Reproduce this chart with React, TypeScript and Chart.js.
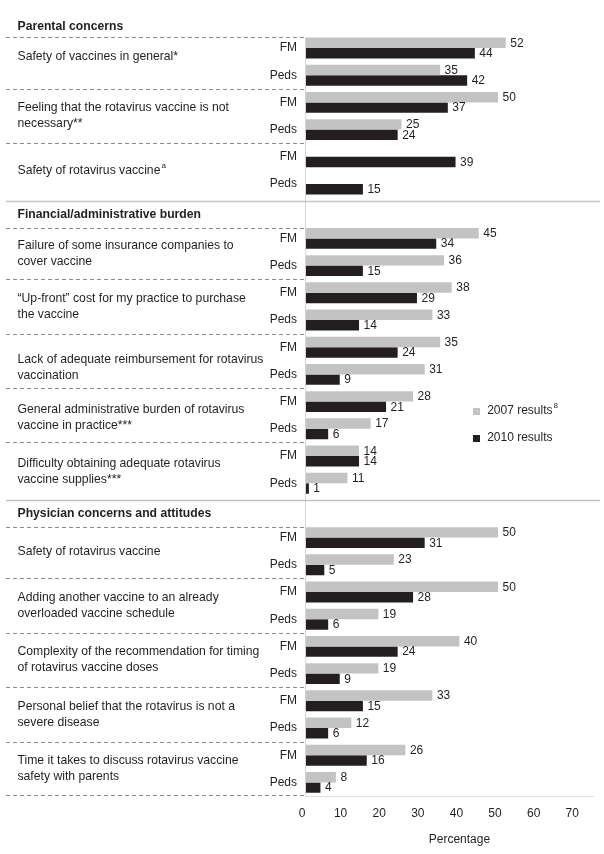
import React, { useEffect, useRef } from 'react';
import { Chart, registerables } from 'chart.js';

Chart.register(...registerables);

// ---------- data ----------
const sectionTitles = [
  'Parental concerns',
  'Financial/administrative burden',
  'Physician concerns and attitudes',
];

const itemLabels: string[][][] = [
  [
    ['Safety of vaccines in general*'],
    ['Feeling that the rotavirus vaccine is not', 'necessary**'],
    ['Safety of rotavirus vaccine'],
  ],
  [
    ['Failure of some insurance companies to', 'cover vaccine'],
    ['\u201CUp-front\u201D cost for my practice to purchase', 'the vaccine'],
    ['Lack of adequate reimbursement for rotavirus', 'vaccination'],
    ['General administrative burden of rotavirus', 'vaccine in practice***'],
    ['Difficulty obtaining adequate rotavirus', 'vaccine supplies***'],
  ],
  [
    ['Safety of rotavirus vaccine'],
    ['Adding another vaccine to an already', 'overloaded vaccine schedule'],
    ['Complexity of the recommendation for timing', 'of rotavirus vaccine doses'],
    ['Personal belief that the rotavirus is not a', 'severe disease'],
    ['Time it takes to discuss rotavirus vaccine', 'safety with parents'],
  ],
];

// superscripts on item labels, keyed "section-item"
const itemSuperscripts: Record<string, string> = { '0-2': 'a' };

const groupLabels = ['FM', 'Peds'];

// values in order: item by item, FM then Peds
const results2007: (number | null)[] = [
  52, 35, 50, 25, null, null,
  45, 36, 38, 33, 35, 31, 28, 17, 14, 11,
  50, 23, 50, 19, 40, 19, 33, 12, 26, 8,
];
const results2010: (number | null)[] = [
  44, 42, 37, 24, 39, 15,
  34, 15, 29, 14, 24, 9, 21, 6, 14, 1,
  31, 5, 28, 6, 24, 9, 15, 6, 16, 4,
];

const seriesNames = ['2007 results', '2010 results'];
const seriesSuperscripts = ['8', ''];
const xTickValues = [0, 10, 20, 30, 40, 50, 60, 70];
const xAxisTitle = 'Percentage';

// ---------- styling ----------
const FONT = '"Liberation Sans", Arial, Helvetica, sans-serif';
const TEXT = '#231f20';
const GRAY = '#c3c3c3';
const BLACK = '#231f20';
// small vertical nudges (px) of item labels, keyed "section-item"
const labelNudge: Record<string, number> = { '0-0': -5, '1-0': 2, '1-2': 7, '1-3': 2, '1-4': 2 };

type ItemMeta = { section: number; item: number; rows: number[]; lines: string[]; sup: string };

function buildRows() {
  const labels: string[] = [];
  const d2007: (number | null)[] = [];
  const d2010: (number | null)[] = [];
  const headers: number[] = [];
  const items: ItemMeta[] = [];
  let k = 0;
  itemLabels.forEach((sec, s) => {
    headers.push(labels.length);
    labels.push('');
    d2007.push(null);
    d2010.push(null);
    sec.forEach((lines, i) => {
      const rows: number[] = [];
      groupLabels.forEach((g) => {
        rows.push(labels.length);
        labels.push(g);
        d2007.push(results2007[k]);
        d2010.push(results2010[k]);
        k++;
      });
      items.push({ section: s, item: i, rows, lines, sup: itemSuperscripts[`${s}-${i}`] || '' });
    });
  });
  return { labels, d2007, d2010, headers, items };
}

export default function App() {
  const ref = useRef<HTMLCanvasElement | null>(null);

  useEffect(() => {
    if (!ref.current) return;
    const { labels, d2007, d2010, headers, items } = buildRows();

    const overlay = {
      id: 'overlay',
      afterDraw(chart: any) {
        const ctx = chart.ctx as CanvasRenderingContext2D;
        const ys = chart.scales.y;
        const xs = chart.scales.x;
        const area = chart.chartArea;
        const half = (ys.getPixelForValue(1) - ys.getPixelForValue(0)) / 2;
        const LX = 17.5;
        const LFONT = `12.2px ${FONT}`;
        ctx.save();

        // vertical axis line (from first separator to bottom)
        const firstTop = Math.round(ys.getPixelForValue(items[0].rows[0]) - half + 3) + 0.5;
        ctx.strokeStyle = '#d4d4d4';
        ctx.lineWidth = 1;
        ctx.beginPath();
        ctx.moveTo(Math.round(area.left) + 0.5, firstTop);
        ctx.lineTo(Math.round(area.left) + 0.5, area.bottom);
        ctx.stroke();

        // section headers + solid separators
        headers.forEach((h, s) => {
          const cy = ys.getPixelForValue(h);
          ctx.fillStyle = TEXT;
          ctx.font = `bold 12.2px ${FONT}`;
          ctx.textAlign = 'left';
          ctx.textBaseline = 'middle';
          ctx.fillText(sectionTitles[s], LX, cy + (s === 0 ? 6 : 3));
          if (s > 0) {
            const ly = Math.round(cy - half + 3.5) + 0.5;
            ctx.strokeStyle = '#c4c4c4';
            ctx.lineWidth = 1.5;
            ctx.setLineDash([]);
            ctx.beginPath();
            ctx.moveTo(6, ly);
            ctx.lineTo(600, ly);
            ctx.stroke();
          }
        });

        // item labels + dashed separators
        items.forEach((it, idx) => {
          const y1 = ys.getPixelForValue(it.rows[0]);
          const y2 = ys.getPixelForValue(it.rows[it.rows.length - 1]);
          const cy = (y1 + y2) / 2 + (labelNudge[`${it.section}-${it.item}`] || 0);
          const lh = 16;
          ctx.fillStyle = TEXT;
          ctx.font = LFONT;
          ctx.textAlign = 'left';
          ctx.textBaseline = 'middle';
          it.lines.forEach((ln, j) => {
            const ty = cy - ((it.lines.length - 1) * lh) / 2 + j * lh;
            ctx.fillText(ln, LX, ty);
            if (it.sup && j === it.lines.length - 1) {
              const w = ctx.measureText(ln).width;
              ctx.font = `8px ${FONT}`;
              ctx.fillText(it.sup, LX + w + 1, ty - 5);
              ctx.font = LFONT;
            }
          });
          const first = it.item === 0;
          const top = y1 - half + (first ? 3 : 0);
          ctx.strokeStyle = '#8c8c8c';
          ctx.lineWidth = 1;
          ctx.setLineDash([4, 3]);
          ctx.beginPath();
          ctx.moveTo(6, Math.round(top) + 0.5);
          ctx.lineTo(area.left, Math.round(top) + 0.5);
          ctx.stroke();
          if (idx === items.length - 1) {
            const bot = y2 + half - 1.5;
            ctx.beginPath();
            ctx.moveTo(6, Math.round(bot) + 0.5);
            ctx.lineTo(area.left, Math.round(bot) + 0.5);
            ctx.stroke();
          }
        });
        ctx.setLineDash([]);

        // value labels
        ctx.font = `12px ${FONT}`;
        ctx.fillStyle = TEXT;
        ctx.textAlign = 'left';
        ctx.textBaseline = 'middle';
        chart.data.datasets.forEach((ds: any, di: number) => {
          const meta = chart.getDatasetMeta(di);
          meta.data.forEach((el: any, i: number) => {
            const v = ds.data[i];
            if (v === null || v === undefined) return;
            ctx.fillText(String(v), el.x + 4.5, el.y + 0.5);
          });
        });

        // legend
        const legY0 = ys.getPixelForValue(14) + 9.5;
        const legX = xs.getPixelForValue(43.4);
        chart.data.datasets.forEach((ds: any, di: number) => {
          const ly = legY0 + di * 27;
          ctx.fillStyle = ds.backgroundColor;
          ctx.fillRect(Math.round(legX), Math.round(ly - 3.5), 7, 7);
          ctx.fillStyle = TEXT;
          ctx.font = `12px ${FONT}`;
          ctx.textAlign = 'left';
          ctx.textBaseline = 'middle';
          ctx.fillText(ds.label, legX + 14.6, ly);
          const sup = seriesSuperscripts[di];
          if (sup) {
            const w = ctx.measureText(ds.label).width;
            ctx.font = `8px ${FONT}`;
            ctx.fillText(sup, legX + 14.6 + w + 1, ly - 5);
          }
        });

        // axis title
        ctx.font = `12px ${FONT}`;
        ctx.fillStyle = TEXT;
        ctx.textAlign = 'center';
        ctx.textBaseline = 'middle';
        ctx.fillText(xAxisTitle, xs.getPixelForValue(40), area.bottom + 43.4);

        ctx.restore();
      },
    };

    const chart = new Chart(ref.current, {
      type: 'bar',
      data: {
        labels,
        datasets: [
          { label: seriesNames[0], data: d2007, backgroundColor: GRAY, borderWidth: 0 },
          { label: seriesNames[1], data: d2010, backgroundColor: BLACK, borderWidth: 0 },
        ],
      },
      options: {
        indexAxis: 'y',
        animation: false,
        responsive: false,
        maintainAspectRatio: false,
        layout: { padding: { left: 0, right: 11, top: 0, bottom: 0 } },
        datasets: { bar: { categoryPercentage: 0.77, barPercentage: 1 } },
        plugins: {
          legend: { display: false },
          tooltip: { enabled: false },
          title: { display: false },
        },
        scales: {
          x: {
            type: 'linear',
            position: 'bottom',
            min: 0,
            max: 74.6,
            afterBuildTicks: (s: any) => {
              s.ticks = xTickValues.map((v) => ({ value: v }));
            },
            afterFit: (s: any) => {
              s.height = 58;
            },
            ticks: {
              font: { family: FONT, size: 12 },
              color: TEXT,
              padding: 10,
              labelOffset: -3,
              autoSkip: false,
              maxRotation: 0,
            },
            grid: { display: false, drawTicks: false },
            border: { display: true, color: '#dedede', width: 1 },
          },
          y: {
            type: 'category',
            position: 'left',
            offset: true,
            afterFit: (s: any) => {
              s.width = 305;
            },
            ticks: {
              font: { family: FONT, size: 12 },
              color: TEXT,
              padding: 8,
              autoSkip: false,
            },
            grid: { display: false, drawTicks: false },
            border: { display: false },
          },
        },
      },
      plugins: [overlay],
    } as any);

    return () => chart.destroy();
  }, []);

  return (
    <div style={{ position: 'absolute', left: 0, top: -8, width: 604, height: 862, background: '#fff' }}>
      <canvas ref={ref} width={604} height={862} style={{ display: 'block', width: 604, height: 862 }} />
    </div>
  );
}
